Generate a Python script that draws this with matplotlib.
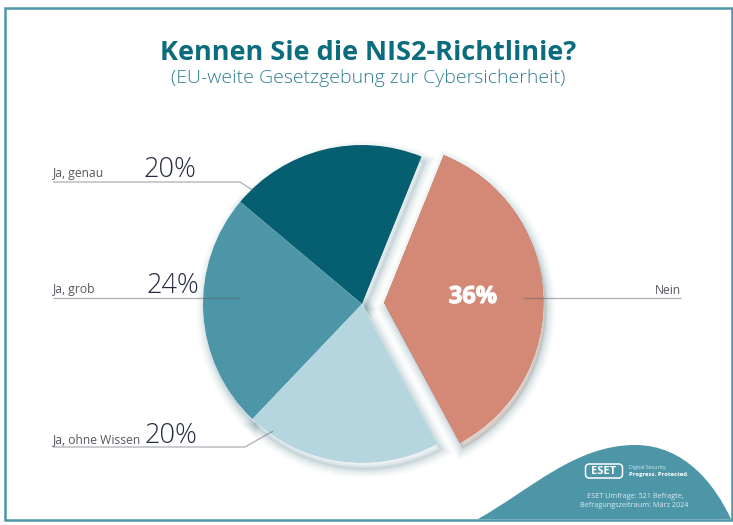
import matplotlib
matplotlib.use("Agg")
import matplotlib.pyplot as plt
import matplotlib.patheffects as pe
from matplotlib.path import Path
from matplotlib.patches import PathPatch, Rectangle, FancyBboxPatch

categories = ["Ja, genau", "Ja, grob", "Ja, ohne Wissen", "Nein"]
values = [20, 24, 20, 36]
value_labels = ["20%", "24%", "20%", "36%"]
colors = ["#065F70", "#4C96A8", "#B5D5DF", "#D48876"]
explode = [0, 0, 0, 0.14]

W, H = 733, 525
plt.rcParams["font.family"] = "Open Sans"
fig = plt.figure(figsize=(W / 100, H / 100), dpi=100, facecolor="white")

bg = fig.add_axes([0, 0, 1, 1], zorder=0)
bg.set_xlim(0, W); bg.set_ylim(H, 0); bg.axis("off")
bg.add_patch(Rectangle((4.5, 7.5), 727, 512, fill=False, ec="#4C96A8", lw=1.8))
hill = Path([(478, 519), (530, 490), (575, 445), (635, 445), (685, 445), (715, 485), (731, 519), (478, 519)],
            [Path.MOVETO, Path.CURVE4, Path.CURVE4, Path.CURVE4, Path.CURVE4, Path.CURVE4, Path.CURVE4, Path.CLOSEPOLY])
bg.add_patch(PathPatch(hill, fc="#4C96A8", ec="none"))

cx, cy, r = 362, 304, 159
pie_ax = fig.add_axes([(cx - r) / W, 1 - (cy + r) / H, 2 * r / W, 2 * r / H], zorder=1)
pie_ax.patch.set_alpha(0)
glow = [pe.withStroke(linewidth=w, foreground="#2E6A7A", alpha=a, offset=(2, -4))
        for w, a in ((14, 0.025), (11, 0.035), (8, 0.05), (5, 0.07), (2, 0.1))]

base, _ = pie_ax.pie(values, colors=["#FFFFFF"] * 4, startangle=68, radius=1)
for b in base:
    b.set_zorder(3); b.set_clip_on(False); b.set_linewidth(0)
    b.set_path_effects(glow + [pe.Normal()])
base[3].set_visible(False)

wedges, _ = pie_ax.pie(values, colors=colors, explode=explode, startangle=68, radius=1)
for a in wedges:
    a.set_clip_on(False); a.set_linewidth(0); a.set_zorder(4)
wedges[3].set_path_effects(glow + [pe.Normal()])
pie_ax.set_xlim(-1, 1); pie_ax.set_ylim(-1, 1)

ov = fig.add_axes([0, 0, 1, 1], zorder=2)
ov.set_xlim(0, W); ov.set_ylim(H, 0); ov.axis("off")
lc = "#5A5F66"
for xs, ys in [([53, 240, 254], [182, 182, 191]), ([53, 240], [297.5, 297.5]),
               ([53, 245, 273], [447, 447, 431]), ([523, 681], [298, 298])]:
    ov.plot(xs, ys, color=lc, lw=0.9, alpha=0.5, solid_capstyle="butt")

ov.text(368.5, 53, "Kennen Sie die NIS2-Richtlinie?", ha="center", va="center", fontsize=19.5,
        fontweight="bold", color="#0B6C7E")
ov.text(368, 78, "(EU-weite Gesetzgebung zur Cybersicherheit)", ha="center", va="center", fontsize=14,
        color="#2F7F92", fontweight="light")

gray = "#55585E"; dark = "#252C40"
ov.text(53, 174, categories[0], ha="left", va="center", fontsize=8.7, color=gray)
ov.text(53, 290, categories[1], ha="left", va="center", fontsize=8.7, color=gray)
ov.text(53, 440, categories[2], ha="left", va="center", fontsize=8.7, color=gray)
ov.text(681, 290, categories[3], ha="right", va="center", fontsize=8.7, color=gray)
ov.text(170, 170, value_labels[0], ha="center", va="center", fontsize=19.5, color=dark, fontweight="light")
ov.text(173, 286, value_labels[1], ha="center", va="center", fontsize=19.5, color=dark, fontweight="light")
ov.text(171, 436, value_labels[2], ha="center", va="center", fontsize=19.5, color=dark, fontweight="light")
ov.text(473, 297, value_labels[3], ha="center", va="center", fontsize=17, fontweight="bold", color="white",
        path_effects=[pe.withStroke(linewidth=0.8, foreground="white")])

ov.add_patch(FancyBboxPatch((585.5, 464), 37, 14, boxstyle="round,pad=0,rounding_size=4", fc="none", ec="white", lw=1.1))
ov.text(604, 471, "ESET", ha="center", va="center", fontsize=8, fontweight="bold", color="white")
ov.text(629, 468, "Digital Security", ha="left", va="center", fontsize=3.8, color="#DCEBEF")
ov.text(629, 474.5, "Progress. Protected.", ha="left", va="center", fontsize=4.3, fontweight="bold", color="white")
ov.text(635, 496, "ESET Umfrage: 521 Befragte,", ha="center", va="center", fontsize=5.2, color="#DCEBEF")
ov.text(634, 505.5, "Befragungszeitraum: März 2024", ha="center", va="center", fontsize=5.2, color="#DCEBEF")

fig.savefig("out.png", dpi=100)
